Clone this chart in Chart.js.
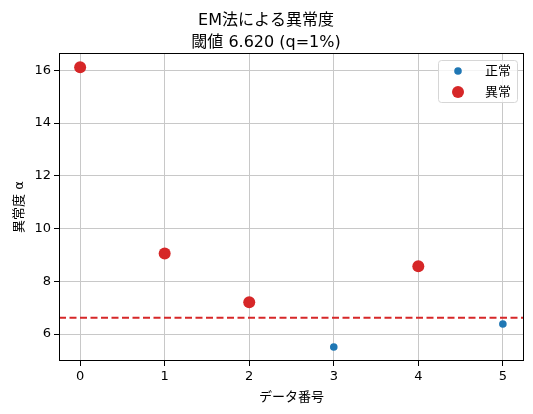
<!DOCTYPE html>
<html>
<head>
<meta charset="utf-8">
<script src="https://cdn.jsdelivr.net/npm/chart.js@4.4.0/dist/chart.umd.min.js"></script>
<style>
    html, body { margin: 0; padding: 0; background: #fff; }
    #wrap { width: 533px; height: 414px; }
</style>
</head>
<body>
<div id="wrap"><canvas id="chart" width="533" height="414"></canvas></div>
<script>
// data
const normalIdx = [3, 5];
const normalScore = [5.51, 6.38];
const anomalyIdx = [0, 1, 2, 4];
const anomalyScore = [16.12, 9.06, 7.21, 8.57];
const threshold = 6.62;
const xTicks = [0, 1, 2, 3, 4, 5];
const yTicks = [6, 8, 10, 12, 14, 16];
const seriesLabels = ['正常', '異常'];
const titleLines = ['EM法による異常度', '閾値 6.620 (q=1%)'];

const FONT = "'DejaVu Sans', 'Noto Sans CJK JP', sans-serif";
const BLUE = '#1f77b4';
const RED = '#d62728';

// frame on all four sides + legend box
const framePlugin = {
    id: 'frame',
    afterDraw(chart) {
        const { ctx, chartArea: a } = chart;
        ctx.save();
        ctx.strokeStyle = '#000';
        ctx.lineWidth = 1;
        ctx.strokeRect(Math.round(a.left) + 0.5, Math.round(a.top) + 0.5,
            Math.round(a.right - a.left) - 1, Math.round(a.bottom - a.top) - 1);

        // legend
        const bx = 438, by = 60, bw = 79, bh = 42;
        ctx.fillStyle = 'rgba(255,255,255,0.8)';
        ctx.strokeStyle = '#d6d6d6';
        ctx.beginPath();
        ctx.roundRect(bx + 0.5, by + 0.5, bw, bh, 3);
        ctx.fill();
        ctx.stroke();
        const rows = [
            { label: seriesLabels[0], color: BLUE, r: 3.8, y: 71 },
            { label: seriesLabels[1], color: RED, r: 6, y: 92 },
        ];
        ctx.font = '13px ' + FONT;
        ctx.textBaseline = 'middle';
        ctx.textAlign = 'left';
        rows.forEach((row) => {
            ctx.fillStyle = row.color;
            ctx.beginPath();
            ctx.arc(458, row.y, row.r, 0, Math.PI * 2);
            ctx.fill();
            ctx.fillStyle = '#000';
            ctx.fillText(row.label, 485, row.y + 1);
        });
        ctx.restore();
    },
};

const ctx = document.getElementById('chart').getContext('2d');
new Chart(ctx, {
    type: 'scatter',
    data: {
        datasets: [
            {
                label: seriesLabels[0],
                data: normalIdx.map((x, i) => ({ x, y: normalScore[i] })),
                backgroundColor: BLUE,
                borderWidth: 0,
                pointRadius: 3.8,
                order: 2,
            },
            {
                label: seriesLabels[1],
                data: anomalyIdx.map((x, i) => ({ x, y: anomalyScore[i] })),
                backgroundColor: RED,
                borderWidth: 0,
                pointRadius: 6,
                order: 1,
            },
            {
                type: 'line',
                label: 'threshold',
                data: [{ x: -0.25, y: threshold }, { x: 5.25, y: threshold }],
                borderColor: RED,
                borderWidth: 1.8,
                borderDash: [7, 3.5],
                pointRadius: 0,
                order: 0,
            },
        ],
    },
    options: {
        responsive: false,
        animation: false,
        layout: { padding: { left: 8, right: 9, top: 0, bottom: 5 } },
        plugins: {
            legend: { display: false },
            tooltip: { enabled: false },
            title: {
                display: true,
                text: titleLines,
                color: '#000',
                font: { family: FONT, size: 16, weight: 'normal', lineHeight: 1.35 },
                padding: { top: 10, bottom: 0 },
            },
        },
        scales: {
            x: {
                type: 'linear',
                min: -0.25,
                max: 5.25,
                afterBuildTicks: (scale) => { scale.ticks = xTicks.map((v) => ({ value: v })); },
                afterFit: (scale) => { scale.height = 48; },
                ticks: { color: '#000', font: { family: FONT, size: 13 }, padding: 3, maxRotation: 0 },
                grid: { color: '#c8c8c8', tickColor: '#000', tickLength: 5, lineWidth: 1 },
                border: { display: false },
                title: { display: true, text: 'データ番号', color: '#000', font: { family: FONT, size: 13 }, padding: { top: 3 } },
            },
            y: {
                type: 'linear',
                min: 4.98,
                max: 16.65,
                afterBuildTicks: (scale) => { scale.ticks = yTicks.map((v) => ({ value: v })); },
                afterFit: (scale) => { scale.width = 51; },
                ticks: { color: '#000', font: { family: FONT, size: 13 }, padding: 3 },
                grid: { color: '#c8c8c8', tickColor: '#000', tickLength: 5, lineWidth: 1 },
                border: { display: false },
                title: { display: true, text: '異常度 α', color: '#000', font: { family: FONT, size: 13 }, padding: { bottom: 2 } },
            },
        },
    },
    plugins: [framePlugin],
});
</script>
</body>
</html>
